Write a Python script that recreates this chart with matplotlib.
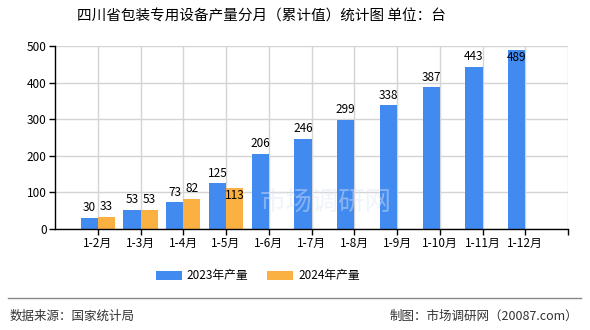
import numpy as np
import matplotlib.pyplot as plt

plt.rcParams['font.family'] = ['Noto Sans CJK SC', 'DejaVu Sans']

# Monthly cumulative output (units: 台)
months = ['1-2月', '1-3月', '1-4月', '1-5月', '1-6月', '1-7月',
          '1-8月', '1-9月', '1-10月', '1-11月', '1-12月']
output_2023 = [30, 53, 73, 125, 206, 246, 299, 338, 387, 443, 489]
output_2024 = [33, 53, 82, 113]

blue = '#418af0'
orange = '#fbb142'

fig = plt.figure(figsize=(5.9, 3.3), dpi=100)
ax = fig.add_axes([55 / 590, 1 - 229 / 330, 513 / 590, 183 / 330])

x = np.arange(1, len(months) + 1)
w = 0.4
ax.bar(x[:len(output_2023)] - w / 2, output_2023, width=w, color=blue,
       label='2023年产量', zorder=2)
ax.bar(x[:len(output_2024)] + w / 2, output_2024, width=w, color=orange,
       label='2024年产量', zorder=2)

ax.set_xlim(0, 12)
ax.set_ylim(0, 500)
ax.set_yticks(range(0, 501, 100))
ax.set_xticks(list(x) + [12])
ax.set_xticklabels(months + [''])
ax.tick_params(axis='both', labelsize=8.5, length=4, width=1, color='black',
               pad=2)
ax.grid(True, color='#d4d4d4', linewidth=1, zorder=0)
for s in ['top', 'right']:
    ax.spines[s].set_visible(False)
for s in ['left', 'bottom']:
    ax.spines[s].set_color('black')
    ax.spines[s].set_linewidth(1)

# value labels; ones that would collide or leave the plot go inside the bar
def label_bars(xs, vals, inside):
    for i, (xi, v) in enumerate(zip(xs, vals)):
        if i in inside:
            ax.text(xi, v - 4, str(v), ha='center', va='top', fontsize=8.5,
                    zorder=4)
        else:
            ax.text(xi, v + 10, str(v), ha='center', va='bottom', fontsize=8.5,
                    zorder=4)

label_bars(x[:len(output_2023)] - w / 2, output_2023, inside={10})
label_bars(x[:len(output_2024)] + w / 2, output_2024, inside={3})

# faint watermark
fig.text(326 / 590, 1 - 202 / 330, '市场调研网', fontsize=19, color='#dfe6f2',
         alpha=0.45, ha='center', va='center', zorder=3)

fig.text(261 / 590, 1 - 17 / 330, '四川省包装专用设备产量分月（累计值）统计图 单位：台',
         ha='center', va='center', fontsize=10.5)

fig.legend(loc='center', bbox_to_anchor=(258 / 590, 1 - 276 / 330), ncol=2,
           frameon=False, fontsize=8.5, handlelength=2.2, handleheight=0.9,
           columnspacing=1.6, handletextpad=0.4)

fig.add_artist(plt.Line2D([8 / 590, 581 / 590], [1 - 298 / 330] * 2,
                          color='#888888', linewidth=1))
fig.text(10 / 590, 1 - 316 / 330, '数据来源：国家统计局', ha='left',
         va='center', fontsize=9, color='#333333')
fig.text(578 / 590, 1 - 316 / 330, '制图：市场调研网（20087.com）', ha='right',
         va='center', fontsize=9, color='#333333')

fig.savefig('out.png', dpi=100)
